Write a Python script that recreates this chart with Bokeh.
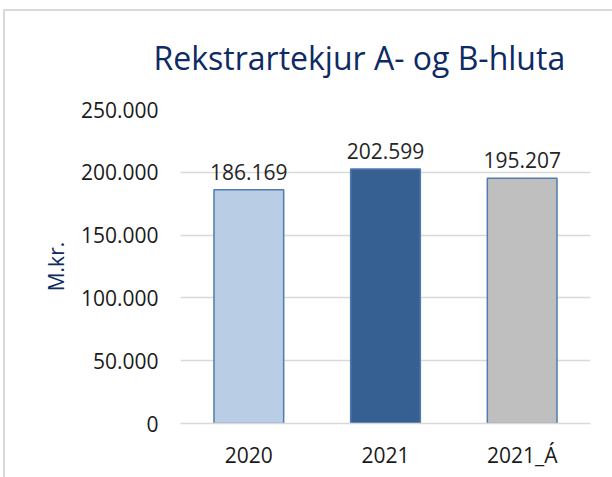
from bokeh.plotting import figure
from bokeh.models import ColumnDataSource, FixedTicker, Title
from bokeh.core.properties import value
from bokeh.embed import file_html
from bokeh.resources import INLINE

categories = ["2020", "2021", "2021_Á"]
values = [186169, 202599, 195207]
value_labels = ["186.169", "202.599", "195.207"]
bar_colors = ["#b9cde5", "#376092", "#bfbfbf"]
y_ticks = [0, 50000, 100000, 150000, 200000, 250000]
y_tick_labels = ["0", "50.000", "100.000", "150.000", "200.000", "250.000"]
title_text = "Rekstrartekjur A- og B-hluta"
y_label = "M.kr."

FONT = "Open Sans"

src = ColumnDataSource(dict(cat=categories, val=values, lab=value_labels, col=bar_colors))

p = figure(width=612, height=477, x_range=categories, y_range=(0, 250000),
           output_backend="svg", toolbar_location=None, title=None,
           min_border_left=180, min_border_right=22, min_border_top=109, min_border_bottom=54)
p.outline_line_color = None
p.background_fill_color = "white"
p.border_fill_color = None
p.styles = {
    "background": "linear-gradient(#d9d9d9, #d9d9d9) 3px 9px / 2px 100% no-repeat, "
                  "linear-gradient(#d9d9d9, #d9d9d9) 3px 9px / 100% 2px no-repeat, white"
}

p.vbar(x="cat", top="val", width=0.51, source=src, fill_color="col",
       line_color="#4f7bb0", line_width=1.5)

p.text(x="cat", y="val", text="lab", source=src, text_align="center",
       text_baseline="alphabetic", y_offset=-18, text_font=value(FONT),
       text_font_size="21px", text_color="#262626")

p.xgrid.grid_line_color = None
p.ygrid.grid_line_color = "#d9d9d9"
p.ygrid.grid_line_width = 1.5
p.yaxis.ticker = FixedTicker(ticks=y_ticks)
p.yaxis.major_label_overrides = {t: l for t, l in zip(y_ticks, y_tick_labels)}

for ax in (p.xaxis, p.yaxis):
    ax.axis_line_color = None
    ax.major_tick_line_color = None
    ax.minor_tick_line_color = None
    ax.major_label_text_font = FONT
    ax.major_label_text_font_size = "21px"
    ax.major_label_text_color = "#1a1a1a"

p.xaxis.axis_line_color = "#d9d9d9"
p.xaxis.axis_line_width = 1.5
p.xaxis.major_label_standoff = 11
p.yaxis.major_label_standoff = 16

p.yaxis.axis_label = y_label
p.yaxis.axis_label_text_font = FONT
p.yaxis.axis_label_text_font_size = "21px"
p.yaxis.axis_label_text_font_style = "normal"
p.yaxis.axis_label_text_color = "#0e2a64"
p.yaxis.axis_label_standoff = 8

p.add_layout(Title(text=title_text, align="left", offset=-27,
                   text_font=FONT, text_font_size="32px", text_font_style="normal",
                   text_color="#0e2a64", standoff=62), "above")

open("out.html", "w").write(file_html(p, INLINE))
